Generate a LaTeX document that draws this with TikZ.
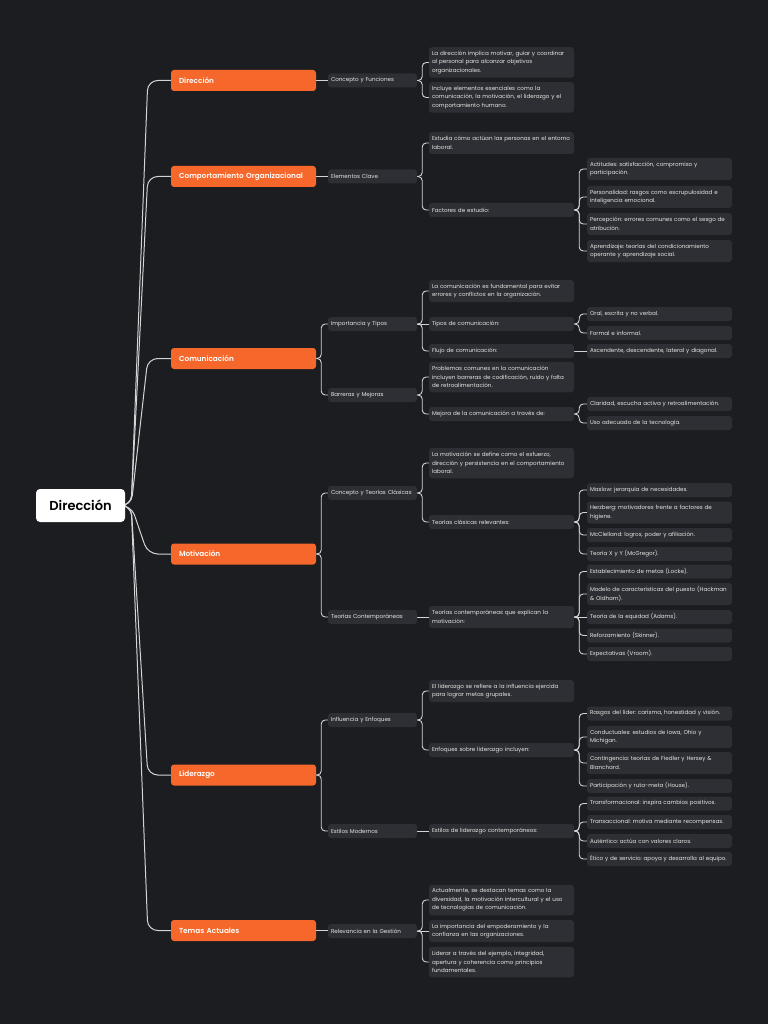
\documentclass[tikz,border=0pt]{standalone}
\usepackage{fontspec}
\setmainfont{Poppins}
\newfontfamily\popsb{Poppins SemiBold}
\usetikzlibrary{calc}
\definecolor{bgc}{HTML}{1C1D21}
\definecolor{boxc}{HTML}{2E2F34}
\definecolor{orng}{HTML}{F5672A}
\definecolor{linec}{HTML}{D4D4D4}
\definecolor{txtc}{HTML}{E6E6E6}
\pgfdeclarelayer{bgl}\pgfdeclarelayer{edgel}\pgfsetlayers{bgl,edgel,main}
\newcommand\edgeE[2]{\draw[conn] (#1.east) -- ++(5,0) |- (#2.west);}
\newcommand\edgeS[2]{\draw[conn] (#1.east) -- (#1.east -| #2.west);}
\newcommand\rootedge[1]{\draw[conn, line width=1pt, rounded corners=10pt] (root.east) -- ++(6,0) -- ($(#1.west)+(-23,0)$) -- (#1.west);}
\newcommand\lonefont{\popsb\fontsize{7.3}{9}\selectfont}
\frenchspacing
\begin{document}
\begin{tikzpicture}[x=1pt,y=-1pt,
 rootbox/.style={fill=white, rounded corners=4pt, minimum width=89pt, minimum height=33pt, font=\popsb\fontsize{13}{15}\selectfont, text=black, inner sep=0pt},
 lone/.style={fill=orng, rounded corners=3pt, minimum width=145pt, minimum height=21pt, text width=129pt, inner xsep=8pt, inner ysep=0pt, align=left, font=\lonefont, text=white},
 ltwo/.style={fill=boxc, rounded corners=3pt, minimum width=89pt, minimum height=14pt, text width=83pt, inner xsep=3pt, inner ysep=0pt, align=left, font=\fontsize{5.6}{8.5}\selectfont, text=txtc},
 lthree/.style={fill=boxc, rounded corners=3pt, minimum width=145pt, text width=139pt, inner xsep=3pt, inner ysep=0pt, align=left, font=\fontsize{5.6}{8.5}\selectfont, text=txtc},
 one/.style={minimum height=14pt}, two/.style={minimum height=22pt}, three/.style={minimum height=30.5pt},
 conn/.style={draw=linec, line width=0.9pt, rounded corners=4pt}]
\useasboundingbox (0,0) rectangle (768,1024);
\begin{pgfonlayer}{bgl}
\fill[bgc] (0,0) rectangle (768,1024);
\end{pgfonlayer}

% root
\node[rootbox] (root) at (80.5,505.5) {Dirección};

% level 1
\node[lone] (d1) at (243.5,80.5) {Dirección};
\node[lone] (d2) at (243.5,176.5) {\mbox{Comportamiento Organizacional}};
\node[lone] (d3) at (243.5,358.5) {Comunicación};
\node[lone] (d4) at (243.5,554) {Motivación};
\node[lone] (d5) at (243.5,775) {Liderazgo};
\node[lone] (d6) at (243.5,930.5) {Temas Actuales};

% level 2
\node[ltwo] (a1) at (372.5,80.5) {Concepto y Funciones};
\node[ltwo] (a2) at (372.5,176.5) {Elementos Clave};
\node[ltwo] (a3) at (372.5,324) {Importancia y Tipos};
\node[ltwo] (a4) at (372.5,395) {Barreras y Mejoras};
\node[ltwo] (a5) at (372.5,493) {Concepto y Teorías Clásicas};
\node[ltwo] (a6) at (372.5,617) {Teorías Contemporáneas};
\node[ltwo] (a7) at (372.5,720) {Influencia y Enfoques};
\node[ltwo] (a8) at (372.5,831) {Estilos Modernos};
\node[ltwo] (a9) at (372.5,931) {Relevancia en la Gestión};

% level 3
\node[lthree,three] (b1) at (501.5,62.5) {La dirección implica motivar, guiar y coordinar\\al personal para alcanzar objetivos\\organizacionales.};
\node[lthree,three] (b2) at (501.5,97.5) {Incluye elementos esenciales como la\\comunicación, la motivación, el liderazgo y el\\comportamiento humano.};
\node[lthree,two] (b3) at (501.5,143) {Estudia cómo actúan las personas en el entorno\\laboral.};
\node[lthree,one] (b4) at (501.5,210) {Factores de estudio:};
\node[lthree,two] (b5) at (501.5,291) {La comunicación es fundamental para evitar\\errores y conflictos en la organización.};
\node[lthree,one] (b6) at (501.5,324) {Tipos de comunicación:};
\node[lthree,one] (b7) at (501.5,351) {Flujo de comunicación:};
\node[lthree,three] (b8) at (501.5,377) {Problemas comunes en la comunicación\\incluyen barreras de codificación, ruido y falta\\de retroalimentación.};
\node[lthree,one] (b9) at (501.5,414) {Mejora de la comunicación a través de:};
\node[lthree,three] (b10) at (501.5,463) {La motivación se define como el esfuerzo,\\dirección y persistencia en el comportamiento\\laboral.};
\node[lthree,one] (b11) at (501.5,522) {Teorías clásicas relevantes:};
\node[lthree,two] (b12) at (501.5,617) {Teorías contemporáneas que explican la\\motivación:};
\node[lthree,two] (b13) at (501.5,691) {El liderazgo se refiere a la influencia ejercida\\para lograr metas grupales.};
\node[lthree,one] (b14) at (501.5,750) {Enfoques sobre liderazgo incluyen:};
\node[lthree,one] (b15) at (501.5,831) {Estilos de liderazgo contemporáneos:};
\node[lthree,three] (b16) at (501.5,900) {Actualmente, se destacan temas como la\\diversidad, la motivación intercultural y el uso\\de tecnologías de comunicación.};
\node[lthree,two] (b17) at (501.5,931) {La importancia del empoderamiento y la\\confianza en las organizaciones.};
\node[lthree,three] (b18) at (501.5,962) {Liderar a través del ejemplo, integridad,\\apertura y coherencia como principios\\fundamentales.};

% level 4
\node[lthree,two] (c1) at (659.5,169) {Actitudes: satisfacción, compromiso y\\participación.};
\node[lthree,two] (c2) at (659.5,197) {Personalidad: rasgos como escrupulosidad e\\inteligencia emocional.};
\node[lthree,two] (c3) at (659.5,224) {Percepción: errores comunes como el sesgo de\\atribución.};
\node[lthree,two] (c4) at (659.5,251) {Aprendizaje: teorías del condicionamiento\\operante y aprendizaje social.};
\node[lthree,one] (c5) at (659.5,314) {Oral, escrita y no verbal.};
\node[lthree,one] (c6) at (659.5,333) {Formal e informal.};
\node[lthree,one] (c7) at (659.5,351) {Ascendente, descendente, lateral y diagonal.};
\node[lthree,one] (c8) at (659.5,404) {Claridad, escucha activa y retroalimentación.};
\node[lthree,one] (c9) at (659.5,423) {Uso adecuado de la tecnología.};
\node[lthree,one] (c10) at (659.5,490) {Maslow: jerarquía de necesidades.};
\node[lthree,two] (c11) at (659.5,512.5) {Herzberg: motivadores frente a factores de\\higiene.};
\node[lthree,one] (c12) at (659.5,535) {McClelland: logros, poder y afiliación.};
\node[lthree,one] (c13) at (659.5,554) {Teoría X y Y (McGregor).};
\node[lthree,one] (c14) at (659.5,571.5) {Establecimiento de metas (Locke).};
\node[lthree,two] (c15) at (659.5,594) {Modelo de características del puesto (Hackman\\\& Oldham).};
\node[lthree,one] (c16) at (659.5,617) {Teoría de la equidad (Adams).};
\node[lthree,one] (c17) at (659.5,635.5) {Reforzamiento (Skinner).};
\node[lthree,one] (c18) at (659.5,654) {Expectativas (Vroom).};
\node[lthree,one] (c19) at (659.5,713.5) {Rasgos del líder: carisma, honestidad y visión.};
\node[lthree,two] (c20) at (659.5,737) {Conductuales: estudios de Iowa, Ohio y\\Michigan.};
\node[lthree,two] (c21) at (659.5,763) {Contingencia: teorías de Fiedler y Hersey \&\\Blanchard.};
\node[lthree,one] (c22) at (659.5,786) {Participación y ruta-meta (House).};
\node[lthree,one] (c23) at (659.5,803.5) {Transformacional: inspira cambios positivos.};
\node[lthree,one] (c24) at (659.5,822) {Transaccional: motiva mediante recompensas.};
\node[lthree,one] (c25) at (659.5,841) {Auténtico: actúa con valores claros.};
\node[lthree,one] (c26) at (659.5,859) {Ético y de servicio: apoya y desarrolla al equipo.};

\begin{pgfonlayer}{edgel}
\rootedge{d1}\rootedge{d2}\rootedge{d3}\rootedge{d4}\rootedge{d5}\rootedge{d6}
\edgeS{d1}{a1}\edgeS{d2}{a2}\edgeE{d3}{a3}\edgeE{d3}{a4}\edgeE{d4}{a5}\edgeE{d4}{a6}
\edgeE{d5}{a7}\edgeE{d5}{a8}\edgeS{d6}{a9}
\edgeE{a1}{b1}\edgeE{a1}{b2}\edgeE{a2}{b3}\edgeE{a2}{b4}
\edgeE{a3}{b5}\edgeS{a3}{b6}\edgeE{a3}{b7}\edgeE{a4}{b8}\edgeE{a4}{b9}
\edgeE{a5}{b10}\edgeE{a5}{b11}\edgeS{a6}{b12}\edgeE{a7}{b13}\edgeE{a7}{b14}
\edgeS{a8}{b15}\edgeE{a9}{b16}\edgeS{a9}{b17}\edgeE{a9}{b18}
\edgeE{b4}{c1}\edgeE{b4}{c2}\edgeE{b4}{c3}\edgeE{b4}{c4}
\edgeE{b6}{c5}\edgeE{b6}{c6}\edgeS{b7}{c7}\edgeE{b9}{c8}\edgeE{b9}{c9}
\edgeE{b11}{c10}\edgeE{b11}{c11}\edgeE{b11}{c12}\edgeE{b11}{c13}
\edgeE{b12}{c14}\edgeE{b12}{c15}\edgeS{b12}{c16}\edgeE{b12}{c17}\edgeE{b12}{c18}
\edgeE{b14}{c19}\edgeE{b14}{c20}\edgeE{b14}{c21}\edgeE{b14}{c22}
\edgeE{b15}{c23}\edgeE{b15}{c24}\edgeE{b15}{c25}\edgeE{b15}{c26}
\end{pgfonlayer}
\end{tikzpicture}
\end{document}
